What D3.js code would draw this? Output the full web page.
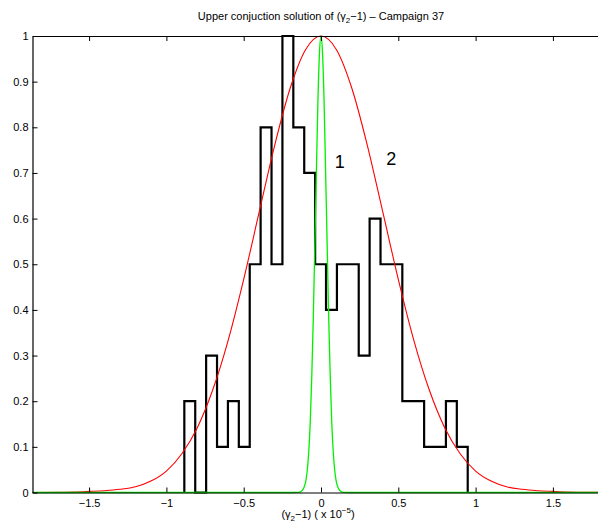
<!DOCTYPE html>
<html><head><meta charset="utf-8">
<script src="https://cdn.jsdelivr.net/npm/d3@7"></script>
<style>
body{margin:0;background:#fff;}
svg{display:block;font-family:"Liberation Sans",Arial,Helvetica,sans-serif;}
</style></head>
<body><svg id="c" width="598" height="526"></svg>
<script>
// ---- data ----
const binEdges = [-0.884,-0.8135,-0.743,-0.6725,-0.602,-0.5315,-0.461,-0.3905,-0.32,-0.2495,-0.179,-0.1085,-0.038,0.0325,0.103,0.1735,0.244,0.3145,0.385,0.4555,0.526,0.5965,0.667,0.7375,0.808,0.8785,0.949];
const binValues = [0.2,0,0.3,0.1,0.2,0.1,0.5,0.8,0.5,1.0,0.8,0.7,0.5,0.4,0.5,0.5,0.3,0.6,0.5,0.5,0.2,0.2,0.1,0.1,0.2,0.1];
const redX = [-1.866,-1.7,-1.6,-1.5,-1.4,-1.3,-1.2,-1.1,-1.0,-0.9,-0.8,-0.7,-0.6,-0.5,-0.4,-0.3,-0.2,-0.1,0,0.1,0.2,0.3,0.4,0.5,0.6,0.7,0.8,0.9,1.0,1.1,1.2,1.3,1.4,1.5,1.6,1.7,1.866];
const redY = [0.0001,0.0006,0.0012,0.0025,0.004,0.007,0.0125,0.025,0.047,0.085,0.142,0.225,0.334,0.467,0.614,0.76,0.885,0.97,1.0,0.97,0.885,0.76,0.614,0.467,0.334,0.225,0.142,0.085,0.047,0.025,0.0125,0.007,0.004,0.0025,0.0012,0.0006,0.0001];
const greenX = [-1.866,-0.2,-0.15,-0.14,-0.13,-0.12,-0.11,-0.1,-0.09,-0.08,-0.07,-0.06,-0.05,-0.04,-0.03,-0.02,-0.01,0,0.01,0.02,0.03,0.04,0.05,0.06,0.07,0.08,0.09,0.1,0.11,0.12,0.13,0.14,0.15,0.2,1.866];
const greenY = [0,0,0.0003,0.0008,0.002,0.005,0.011,0.022,0.045,0.085,0.15,0.25,0.38,0.54,0.70,0.856,0.962,1.0,0.962,0.856,0.70,0.54,0.38,0.25,0.15,0.085,0.045,0.022,0.011,0.005,0.002,0.0008,0.0003,0,0];
const xTicks = [-1.5,-1,-0.5,0,0.5,1,1.5];
const yTicks = [0,0.1,0.2,0.3,0.4,0.5,0.6,0.7,0.8,0.9,1];
const curveLabels = [{text:"1", x:0.122, y:0.71},{text:"2", x:0.455, y:0.717}];

// ---- chart ----
const svg = d3.select("#c");
const x = d3.scaleLinear().domain([-1.866,1.866]).range([32.5,609.5]);
const y = d3.scaleLinear().domain([0,1]).range([492.5,36]);
const fmt = d => (d<0? "\u2212"+String(-d) : String(d));

// histogram stairs
const pts = [[binEdges[0],0]];
binValues.forEach((v,i)=>{ pts.push([binEdges[i],v]); pts.push([binEdges[i+1],v]); });
pts.push([binEdges[binEdges.length-1],0]);
svg.append("path").attr("d", d3.line().x(d=>x(d[0])).y(d=>y(d[1]))(pts))
  .attr("fill","none").attr("stroke","#000").attr("stroke-width",2.2).attr("stroke-linejoin","miter");

// red curve
svg.append("path").attr("d", d3.line().curve(d3.curveMonotoneX).x((d,i)=>x(redX[i])).y(d=>y(d))(redY))
  .attr("fill","none").attr("stroke","#ff0000").attr("stroke-width",1.1);

// green curve
svg.append("path").attr("d", d3.line().curve(d3.curveMonotoneX).x((d,i)=>x(greenX[i])).y(d=>y(d))(greenY))
  .attr("fill","none").attr("stroke","#00f000").attr("stroke-width",1.3);

// axes
const ax = svg.append("g").attr("font-size",11);
const gb = ax.append("g").attr("transform",`translate(0,${y(0)})`)
  .call(d3.axisBottom(x).tickValues(xTicks).tickFormat(fmt).tickSizeInner(-5).tickSizeOuter(0).tickPadding(7));
const gt = ax.append("g").attr("transform",`translate(0,${y(1)})`)
  .call(d3.axisTop(x).tickValues(xTicks).tickFormat("").tickSizeInner(-5).tickSizeOuter(0));
const gl = ax.append("g").attr("transform",`translate(${x(-1.866)},0)`)
  .call(d3.axisLeft(y).tickValues(yTicks).tickFormat(d=>String(d)).tickSizeInner(-5).tickSizeOuter(0).tickPadding(4));
[gb,gt,gl].forEach(g=>{
  g.attr("font-family",null).attr("font-size",null);
  g.selectAll("path.domain").attr("stroke","#000").attr("stroke-width",1.2);
  g.selectAll("line").attr("stroke","#000");
  g.selectAll("text").attr("fill","#000").attr("font-size",11);
});

// curve labels
svg.selectAll("text.cl").data(curveLabels).enter().append("text").attr("class","cl")
  .attr("x",d=>x(d.x)).attr("y",d=>y(d.y)).attr("text-anchor","middle")
  .attr("font-size",18).text(d=>d.text);

// title
const t = svg.append("text").attr("x",321).attr("y",20).attr("text-anchor","middle").attr("font-size",11);
t.append("tspan").text("Upper conjuction solution of (\u03b3");
t.append("tspan").attr("dy",3).attr("font-size",8).text("2");
t.append("tspan").attr("dy",-3).text("\u22121) \u2013 Campaign 37");

// x label
const xl = svg.append("text").attr("x",318).attr("y",518).attr("text-anchor","middle").attr("font-size",11);
xl.append("tspan").text("(\u03b3");
xl.append("tspan").attr("dy",3).attr("font-size",8).text("2");
xl.append("tspan").attr("dy",-3).text("\u22121) ( x 10");
xl.append("tspan").attr("dy",-5).attr("font-size",8).text("\u22125");
xl.append("tspan").attr("dy",5).text(")");
</script></body></html>
